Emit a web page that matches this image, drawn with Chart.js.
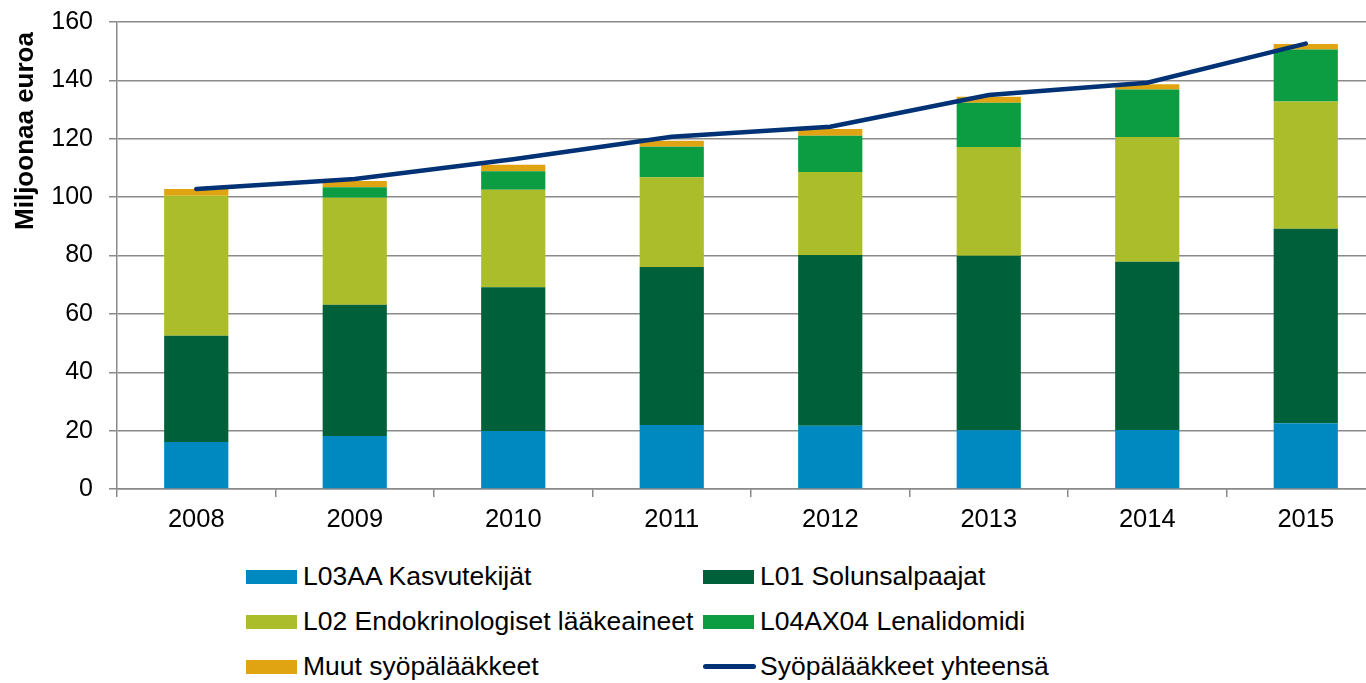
<!DOCTYPE html>
<html>
<head>
<meta charset="utf-8">
<script src="https://cdn.jsdelivr.net/npm/chart.js@4/dist/chart.umd.min.js"></script>
<style>
  html, body { margin: 0; padding: 0; background: #fff; overflow: hidden; width: 1366px; height: 683px; }
  #wrap { position: relative; width: 1366px; height: 683px; overflow: hidden; }
  #chart { position: absolute; left: 0; top: -9px; }
  .leg { position: absolute; font-family: "Liberation Sans", Arial, sans-serif; font-size: 26.5px; color: #000; white-space: nowrap; line-height: 30px; }
  .leg .box { position: absolute; left: 0; top: 9px; width: 51px; height: 14px; }
  .leg .ln { position: absolute; left: 0; top: 13px; width: 53px; height: 5px; border-radius: 3px; }
  .leg .txt { position: absolute; left: 57px; top: 0; }
</style>
</head>
<body>
<div id="wrap">
  <canvas id="chart" width="1390" height="554"></canvas>
  <div id="legend"></div>
</div>
<script>
const years = ["2008", "2009", "2010", "2011", "2012", "2013", "2014", "2015"];
const kasvutekijat = [16.1, 18.2, 19.9, 21.9, 21.7, 20.1, 20.2, 22.5];
const solunsalpaajat = [36.4, 44.9, 49.2, 54.2, 58.5, 59.8, 57.7, 66.7];
const endokrinologiset = [48.0, 36.7, 33.4, 30.7, 28.4, 37.3, 42.7, 43.6];
const lenalidomidi = [0, 3.6, 6.4, 10.5, 12.4, 15.1, 16.3, 17.8];
const muut = [2.3, 2.1, 2.2, 2.0, 2.3, 2.1, 1.8, 1.9];
const yhteensa = [102.8, 106.2, 113.0, 120.7, 124.1, 135.0, 139.2, 152.6];

const font = "'Liberation Sans', Arial, sans-serif";
const gridColor = "#8a8a8a";

function bar(label, data, color) {
  return {
    type: "bar", label: label, data: data, backgroundColor: color,
    stack: "bars", barPercentage: 0.405, categoryPercentage: 1, order: 2
  };
}

// y-axis title sits near the top, not centred on the axis
const yTitle = {
  id: "yTitle",
  afterDraw(chart) {
    const ctx = chart.ctx;
    ctx.save();
    ctx.translate(26, 140);
    ctx.rotate(-Math.PI / 2);
    ctx.font = "bold 26px " + font;
    ctx.fillStyle = "#000";
    ctx.textAlign = "center";
    ctx.textBaseline = "middle";
    ctx.fillText("Miljoonaa euroa", 0, 0);
    ctx.restore();
  }
};

const chart = new Chart(document.getElementById("chart"), {
  data: {
    labels: years,
    datasets: [
      bar("L03AA Kasvutekijät", kasvutekijat, "#0089c1"),
      bar("L01 Solunsalpaajat", solunsalpaajat, "#006039"),
      bar("L02 Endokrinologiset lääkeaineet", endokrinologiset, "#abbd2a"),
      bar("L04AX04 Lenalidomidi", lenalidomidi, "#0c9d42"),
      bar("Muut syöpälääkkeet", muut, "#e0a413"),
      {
        type: "line", label: "Syöpälääkkeet yhteensä", data: yhteensa,
        borderColor: "#003275", borderWidth: 4.5, pointRadius: 0,
        borderCapStyle: "round", tension: 0, stack: "total", order: 1
      }
    ]
  },
  options: {
    responsive: false,
    animation: false,
    layout: { padding: { top: 13, right: 5, left: 0, bottom: 0 } },
    plugins: { legend: { display: false }, tooltip: { enabled: false } },
    scales: {
      x: {
        stacked: true,
        offset: true,
        grid: { offset: true, drawOnChartArea: false, color: gridColor, lineWidth: 1.5, tickLength: 8 },
        border: { color: gridColor, width: 1.5 },
        ticks: { color: "#000", font: { family: font, size: 25.5 }, padding: 8 },
        afterFit(s) { s.height = 56; }
      },
      y: {
        stacked: true,
        min: 0, max: 160,
        ticks: { stepSize: 20, color: "#000", font: { family: font, size: 25 }, padding: 16 },
        grid: { color: gridColor, lineWidth: 1.5, tickLength: 8 },
        border: { color: gridColor, width: 1.5 },
        afterFit(s) { s.width = 117; }
      }
    }
  },
  plugins: [yTitle]
});

// legend in two columns, built from the chart's datasets
const legend = document.getElementById("legend");
const colX = [246, 703];
const rowY = [561, 606, 651];
chart.data.datasets.forEach((ds, i) => {
  const item = document.createElement("div");
  item.className = "leg";
  item.style.left = colX[i % 2] + "px";
  item.style.top = rowY[Math.floor(i / 2)] + "px";
  const mark = document.createElement("div");
  if (ds.type === "line") {
    mark.className = "ln";
    mark.style.background = ds.borderColor;
  } else {
    mark.className = "box";
    mark.style.background = ds.backgroundColor;
  }
  const txt = document.createElement("span");
  txt.className = "txt";
  txt.textContent = ds.label;
  item.appendChild(mark);
  item.appendChild(txt);
  legend.appendChild(item);
});
</script>
</body>
</html>
